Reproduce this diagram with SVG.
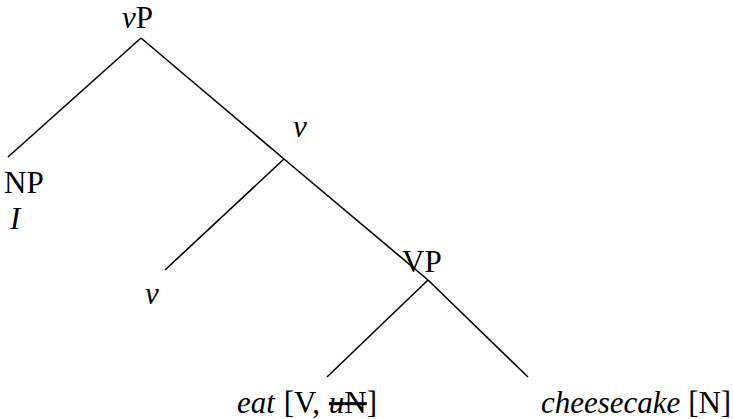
<svg xmlns="http://www.w3.org/2000/svg" width="733" height="419" viewBox="0 0 733 419">
<style>
text{font-family:"Liberation Serif","Times New Roman",serif;font-size:31px;fill:#000}
.i{font-style:italic}
.e line{stroke:#000;stroke-width:1.6}
</style>
<rect width="733" height="419" fill="#fff"/>
<g id="edges" class="e">
<line x1="141" y1="38" x2="8" y2="157"/>
<line x1="141" y1="38" x2="284" y2="159"/>
<line x1="284" y1="159" x2="165" y2="270"/>
<line x1="284" y1="159" x2="428" y2="280"/>
<line x1="428" y1="280" x2="327" y2="377"/>
<line x1="428" y1="280" x2="528" y2="377"/>
</g>
<g id="vP"><text x="122" y="28"><tspan class="i">v</tspan>P</text></g>
<g id="NP"><text x="4" y="193">NP</text><text x="10" y="229" class="i">I</text></g>
<g id="vbar"><text x="293" y="137" class="i">v</text></g>
<g id="v"><text x="145" y="304" class="i">v</text></g>
<g id="VP"><text x="402" y="272">VP</text></g>
<g id="eat"><text x="237" y="413" word-spacing="1"><tspan class="i">eat</tspan> [V, <tspan class="i" text-decoration="line-through">u</tspan><tspan text-decoration="line-through">N</tspan>]</text></g>
<g id="cheesecake"><text x="541" y="413"><tspan class="i">cheesecake</tspan> [N]</text></g>
</svg>
